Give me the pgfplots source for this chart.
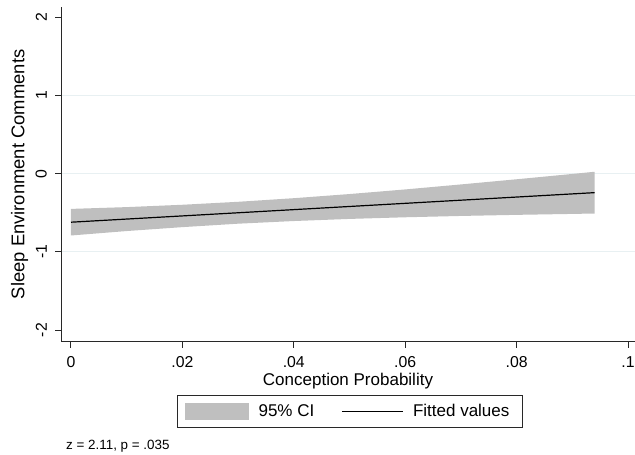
\documentclass[border=0pt]{standalone}
\usepackage{pgfplots}
\pgfplotsset{compat=1.18}
\usepgfplotslibrary{fillbetween}
\usepackage{fontspec}
\setmainfont{Liberation Sans}
\definecolor{cigray}{RGB}{191,191,191}
\definecolor{gridc}{RGB}{232,240,242}
\definecolor{axc}{RGB}{40,40,40}
\begin{document}
\begin{tikzpicture}
\begin{axis}[
  at={(61pt,113.3pt)}, anchor=south west,
  scale only axis, width=574pt, height=334.7pt,
  xmin=-0.001795, xmax=0.101257, ymin=-2.148, ymax=2.132,
  axis x line*=bottom, axis y line*=left,
  axis line style={axc, line width=1pt},
  tick align=outside, major tick length=6pt,
  tick style={axc, line width=1pt},
  xtick={0,0.02,0.04,0.06,0.08,0.1}, xticklabels={0,.02,.04,.06,.08,.1},
  ytick={-2,-1,0,1,2},
  yticklabels={\rotatebox{90}{-2},\rotatebox{90}{-1},\rotatebox{90}{0},\rotatebox{90}{1},\rotatebox{90}{2}},
  extra y ticks={-1,0,1}, extra y tick labels={},
  extra y tick style={major tick length=0pt, grid=major, major grid style={gridc, line width=1pt}},
  xticklabel style={font=\fontsize{15.8}{18}\selectfont, inner sep=0pt, anchor=north, yshift=-9pt},
  yticklabel style={font=\fontsize{15.8}{18}\selectfont, inner sep=0pt, anchor=east, xshift=-8pt},
  xlabel={Conception Probability},
  ylabel={Sleep Environment Comments},
  xlabel style={font=\fontsize{17}{20}\selectfont, at={(axis description cs:0.5,-0.1294)}, anchor=base},
  ylabel style={font=\fontsize{18.4}{21}\selectfont, at={(axis description cs:-0.0723,0.5)}, anchor=center},
  legend columns=2,
  legend cell align=left,
  legend style={at={(axis description cs:0.5035,-0.208)}, anchor=center,
    draw=axc, line width=1pt, fill=white, inner xsep=8pt, inner ysep=7pt,
    font=\fontsize{17}{20}\selectfont,
    nodes={inner sep=0pt},
    /tikz/every odd column/.append style={column sep=9.5pt},
    /tikz/every even column/.append style={column sep=27pt}},
]
\addplot[name path=up, draw=none, forget plot] coordinates {
(0,-0.450) (0.01,-0.427) (0.02,-0.397) (0.03,-0.359) (0.04,-0.313) (0.05,-0.260)
(0.06,-0.201) (0.07,-0.137) (0.08,-0.071) (0.09,-0.003) (0.094,0.025)};
\addplot[name path=lo, draw=none, forget plot] coordinates {
(0,-0.790) (0.01,-0.733) (0.02,-0.683) (0.03,-0.639) (0.04,-0.605) (0.05,-0.578)
(0.06,-0.557) (0.07,-0.540) (0.08,-0.526) (0.09,-0.514) (0.094,-0.509)};
\addplot[fill=cigray, draw=none,
  legend image code/.code={\fill[cigray] (0pt,-8.7pt) rectangle (64pt,8.7pt);}]
  fill between[of=up and lo];
\addlegendentry{95\% CI}
\addplot[black, line width=1.2pt,
  legend image code/.code={\draw[black, line width=1.2pt] (0pt,0pt) -- (61pt,0pt);}]
  coordinates {(0,-0.620) (0.094,-0.242)};
\addlegendentry{Fitted values\hspace*{5.5pt}}
\end{axis}
\node[anchor=base west, inner sep=0pt, font=\fontsize{13.4}{16}\selectfont]
  at (66pt,5.7pt) {z = 2.11, p = .035};
\pgfresetboundingbox
\path[use as bounding box] (0,0) rectangle (635pt,455pt);
\end{tikzpicture}
\end{document}
